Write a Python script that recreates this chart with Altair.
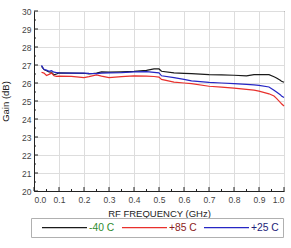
import altair as alt
import pandas as pd

freq = [0.03, 0.04, 0.05, 0.06, 0.07, 0.08, 0.09, 0.10, 0.15, 0.20, 0.22, 0.25,
        0.27, 0.30, 0.35, 0.40, 0.45, 0.48, 0.50, 0.51, 0.56, 0.60, 0.63, 0.70,
        0.75, 0.80, 0.85, 0.88, 0.90, 0.94, 0.96, 0.97, 0.985, 0.99, 1.0]
gain_m40 = [26.93, 26.75, 26.68, 26.62, 26.60, 26.45, 26.50, 26.56, 26.55, 26.54, 26.50, 26.55,
            26.62, 26.60, 26.62, 26.65, 26.70, 26.78, 26.78, 26.65, 26.56, 26.54, 26.52, 26.47,
            26.45, 26.43, 26.40, 26.46, 26.46, 26.46, 26.35, 26.28, 26.15, 26.10, 26.04]
gain_p85 = [26.60, 26.55, 26.42, 26.48, 26.55, 26.40, 26.37, 26.38, 26.37, 26.30, 26.35, 26.45,
            26.38, 26.30, 26.35, 26.40, 26.38, 26.36, 26.33, 26.20, 26.05, 26.00, 25.96, 25.82,
            25.77, 25.72, 25.65, 25.60, 25.55, 25.40, 25.28, 25.15, 24.92, 24.85, 24.72]
gain_p25 = [26.98, 26.75, 26.72, 26.65, 26.68, 26.60, 26.58, 26.56, 26.55, 26.55, 26.53, 26.52,
            26.55, 26.56, 26.58, 26.62, 26.63, 26.59, 26.56, 26.40, 26.30, 26.20, 26.12, 26.04,
            26.00, 25.96, 25.92, 25.90, 25.87, 25.78, 25.60, 25.50, 25.35, 25.28, 25.20]

series_names = ["-40 C", "+85 C", "+25 C"]
series_colors = ["#1a1a1a", "#e8302c", "#2626c4"]
label_colors = ["#2e8b2e", "#8b1a1a", "#1c1c7a"]

x_major = [0.0, 0.1, 0.2, 0.3, 0.4, 0.5, 0.6, 0.7, 0.8, 0.9, 1.0]
x_minor = [0.05, 0.15, 0.25, 0.35, 0.45, 0.55, 0.65, 0.75, 0.85, 0.95]
y_major = [20, 21, 22, 23, 24, 25, 26, 27, 28, 29, 30]
y_minor = [20.5, 21.5, 22.5, 23.5, 24.5, 25.5, 26.5, 27.5, 28.5, 29.5]

rows = []
for name, vals in zip(series_names, [gain_m40, gain_p85, gain_p25]):
    for f, g in zip(freq, vals):
        rows.append({"freq": f, "gain": g, "series": name})
df = pd.DataFrame(rows)

xscale = alt.Scale(domain=[0, 1], nice=False)
yscale = alt.Scale(domain=[20, 30], nice=False)
x_axis = alt.Axis(values=x_major, format=".1f", title="RF FREQUENCY (GHz)",
                  ticks=False, tickSize=0, labelPadding=4, titlePadding=5, grid=True)
y_axis = alt.Axis(values=y_major, format="d", title="Gain (dB)",
                  ticks=False, tickSize=0, labelPadding=3, titlePadding=11, grid=True)

label_expr = ("datum.label == '%s' ? '%s' : datum.label == '%s' ? '%s' : '%s'"
              % (series_names[0], label_colors[0], series_names[1], label_colors[1], label_colors[2]))

lines = alt.Chart(df).mark_line(strokeWidth=1.2).encode(
    x=alt.X("freq:Q", scale=xscale, axis=x_axis),
    y=alt.Y("gain:Q", scale=yscale, axis=y_axis),
    color=alt.Color("series:N",
                    scale=alt.Scale(domain=series_names, range=series_colors),
                    legend=alt.Legend(orient="none", legendX=-3, legendY=207,
                                      direction="horizontal", title=None,
                                      symbolType="M0.33,0H10.33", symbolSize=81,
                                      symbolStrokeWidth=1.2, labelFontSize=10.3,
                                      labelColor=alt.ExprRef(label_expr),
                                      strokeColor="#b0b0b0", padding=4,
                                      columnPadding=0, labelOffset=43)),
)

xt_major = alt.Chart(pd.DataFrame({"freq": x_major})).mark_rule(color="#222", strokeWidth=1).encode(
    x=alt.X("freq:Q", scale=xscale, axis=x_axis),
    y=alt.datum(20, scale=yscale, axis=y_axis), y2=alt.datum(20.22))
xt_minor = alt.Chart(pd.DataFrame({"freq": x_minor})).mark_rule(color="#222", strokeWidth=1).encode(
    x=alt.X("freq:Q", scale=xscale, axis=x_axis),
    y=alt.datum(20, scale=yscale, axis=y_axis), y2=alt.datum(20.11))
yt_major = alt.Chart(pd.DataFrame({"gain": y_major})).mark_rule(color="#222", strokeWidth=1).encode(
    y=alt.Y("gain:Q", scale=yscale, axis=y_axis),
    x=alt.datum(0, scale=xscale, axis=x_axis), x2=alt.datum(0.016))
yt_minor = alt.Chart(pd.DataFrame({"gain": y_minor})).mark_rule(color="#222", strokeWidth=1).encode(
    y=alt.Y("gain:Q", scale=yscale, axis=y_axis),
    x=alt.datum(0, scale=xscale, axis=x_axis), x2=alt.datum(0.008))

chart = alt.layer(lines, xt_major, xt_minor, yt_major, yt_minor).properties(
    width=250, height=180,
    padding={"left": 34, "top": 11, "right": 7, "bottom": 57},
    autosize=alt.AutoSizeParams(type="none"),
).configure(font="Liberation Sans").configure_view(
    stroke="#222", strokeWidth=1
).configure_axis(
    domainColor="#222", domainWidth=1, gridColor="#dddddd", gridWidth=1,
    labelFontSize=8.5, labelColor="#444444", titleFontSize=9.5, titleColor="#222222",
    titleFontWeight="normal", labelFont="Liberation Sans", titleFont="Liberation Sans"
).configure_legend(labelFont="Liberation Sans")

chart.save("out.html", embed_options={"renderer": "svg", "actions": False})
